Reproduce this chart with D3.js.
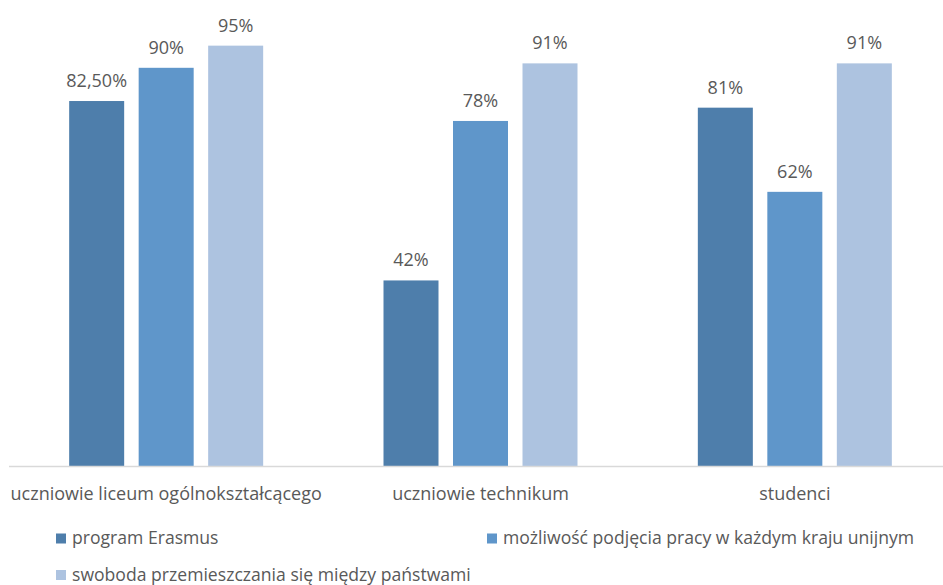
<!DOCTYPE html>
<html><head><meta charset="utf-8">
<script src="https://cdn.jsdelivr.net/npm/d3@7"></script>
<style>body{margin:0;background:#fff}svg{display:block}text{font-family:"Open Sans",sans-serif;fill:#595959}</style>
</head><body><svg id="c" width="943" height="585"></svg>
<script>
const categories = ["uczniowie liceum ogólnokształcącego", "uczniowie technikum", "studenci"];
const seriesNames = ["program Erasmus", "możliwość podjęcia pracy w każdym kraju unijnym", "swoboda przemieszczania się między państwami"];
const erasmus = [82.5, 42, 81];
const praca = [90, 78, 62];
const swoboda = [95, 91, 91];
const labels = [["82,50%", "42%", "81%"], ["90%", "78%", "62%"], ["95%", "91%", "91%"]];
const colors = ["#4e7eab", "#5f96ca", "#adc3e0"];
const series = [erasmus, praca, swoboda];

const svg = d3.select("#c");
const baseY = 466.5;
const x = d3.scaleBand().domain(categories).range([9, 952]).paddingInner(0).paddingOuter(0);
const inner = d3.scaleBand().domain(d3.range(3)).range([0, 194]).paddingInner(0.2086).paddingOuter(0);
const y = d3.scaleLinear().domain([0, 100]).range([baseY, baseY - 443]);
const FS = 18;

const groups = svg.selectAll("g.grp").data(categories).join("g")
  .attr("transform", d => `translate(${x(d) + x.bandwidth()/2 - 97},0)`);
groups.each(function(cat, ci) {
  const g = d3.select(this);
  series.forEach((s, si) => {
    g.append("rect").attr("x", inner(si)).attr("width", inner.bandwidth())
      .attr("y", y(s[ci])).attr("height", baseY - y(s[ci])).attr("fill", colors[si]);
    g.append("text").attr("x", inner(si) + inner.bandwidth()/2).attr("y", y(s[ci]) - 14)
      .attr("text-anchor", "middle").attr("font-size", FS).text(labels[si][ci]);
  });
});
svg.append("line").attr("x1", 9).attr("x2", 943).attr("y1", baseY).attr("y2", baseY)
  .attr("stroke", "#d9d9d9").attr("stroke-width", 1.5);
svg.selectAll("text.cat").data(categories).join("text").attr("class", "cat")
  .attr("x", d => x(d) + x.bandwidth()/2).attr("y", 500).attr("text-anchor", "middle")
  .attr("font-size", FS).text(d => d);

const legPos = [[56, 538.5], [487, 538.5], [56, 575]];
seriesNames.forEach((n, i) => {
  const [lx, ly] = legPos[i];
  svg.append("rect").attr("x", lx).attr("y", ly - 5).attr("width", 10).attr("height", 10).attr("fill", colors[i]);
  svg.append("text").attr("x", lx + 16).attr("y", ly + 5.5).attr("font-size", 17.6).text(n);
});
</script></body></html>
